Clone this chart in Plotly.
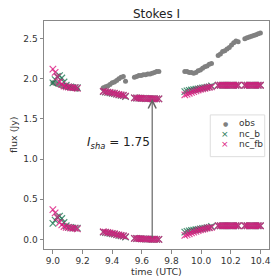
import plotly.graph_objects as go

I_SHA = 1.75

# --- observations (grey dots) ---
obs_t = [9.00, 9.015, 9.03, 9.045, 9.06, 9.075, 9.09, 9.105, 9.12, 9.135, 9.15, 9.165,
         9.34, 9.355, 9.37, 9.385, 9.40, 9.415, 9.43, 9.445, 9.46, 9.475, 9.49,
         9.55, 9.565, 9.58, 9.595, 9.61, 9.625, 9.64, 9.655, 9.67, 9.685, 9.70, 9.715,
         9.89, 9.905, 9.92, 9.935, 9.95, 9.965, 9.98, 9.995, 10.01, 10.025, 10.04, 10.055, 10.07,
         10.115, 10.13, 10.145, 10.16, 10.175, 10.19, 10.205, 10.22, 10.235, 10.25,
         10.295, 10.31, 10.325, 10.34, 10.355, 10.37, 10.385, 10.40]
obs_v = [1.95, 1.94, 1.93, 1.92, 1.91, 1.90, 1.90, 1.89, 1.89, 1.88, 1.88, 1.87,
         1.89, 1.90, 1.91, 1.93, 1.95, 1.96, 1.98, 2.00, 2.02, 2.03, 1.97,
         2.02, 2.03, 2.04, 2.04, 2.05, 2.05, 2.06, 2.06, 2.07, 2.08, 2.09, 2.09,
         2.09, 2.09, 2.08, 2.08, 2.07, 2.08, 2.10, 2.11, 2.13, 2.15, 2.16, 2.18, 2.19,
         2.29, 2.31, 2.34, 2.35, 2.37, 2.39, 2.42, 2.45, 2.47, 2.46,
         2.50, 2.51, 2.52, 2.53, 2.54, 2.55, 2.56, 2.57]

# --- model times ---
nc_t = [9.00, 9.015, 9.03, 9.045, 9.06, 9.075, 9.09, 9.105, 9.12, 9.135, 9.15, 9.165,
        9.34, 9.355, 9.37, 9.385, 9.40, 9.415, 9.43, 9.445, 9.46, 9.475, 9.49,
        9.55, 9.565, 9.58, 9.595, 9.61, 9.625, 9.64, 9.655, 9.67, 9.685, 9.70, 9.715,
        9.89, 9.905, 9.92, 9.935, 9.95, 9.965, 9.98, 9.995, 10.01, 10.025, 10.04, 10.055, 10.07,
        10.115, 10.13, 10.145, 10.16, 10.175, 10.19, 10.205, 10.22, 10.235, 10.25,
        10.295, 10.31, 10.325, 10.34, 10.355, 10.37, 10.385, 10.40]
nc_b = [0.20, 0.24, 0.28, 0.29, 0.26, 0.21, 0.17, 0.15, 0.15, 0.14, 0.14, 0.14,
        0.09, 0.085, 0.08, 0.075, 0.07, 0.065, 0.06, 0.05, 0.045, 0.04, 0.03,
        0.012, 0.011, 0.01, 0.008, 0.006, 0.005, 0.004, 0.003, 0.002, 0.001, 0.0, 0.0,
        0.09, 0.10, 0.105, 0.11, 0.115, 0.12, 0.125, 0.13, 0.135, 0.14, 0.145, 0.15, 0.16,
        0.17, 0.17, 0.17, 0.17, 0.17, 0.17, 0.17, 0.17, 0.17, 0.17,
        0.17, 0.17, 0.17, 0.17, 0.17, 0.17, 0.17, 0.17]
nc_fb = [0.37, 0.33, 0.27, 0.21, 0.18, 0.16, 0.15, 0.15, 0.14, 0.14, 0.14, 0.13,
         0.095, 0.09, 0.085, 0.08, 0.075, 0.07, 0.06, 0.055, 0.05, 0.045, 0.035,
         0.012, 0.011, 0.01, 0.008, 0.006, 0.005, 0.004, 0.003, 0.002, 0.001, 0.0, 0.0,
         0.05, 0.06, 0.07, 0.08, 0.09, 0.10, 0.11, 0.12, 0.125, 0.13, 0.14, 0.145, 0.15,
         0.17, 0.17, 0.17, 0.17, 0.17, 0.17, 0.17, 0.17, 0.17, 0.17,
         0.17, 0.17, 0.17, 0.17, 0.17, 0.17, 0.17, 0.17]

x_ticks = [9.0, 9.2, 9.4, 9.6, 9.8, 10.0, 10.2, 10.4]
y_ticks = [0.0, 0.5, 1.0, 1.5, 2.0, 2.5]
legend_labels = ["obs", "nc_b", "nc_fb"]

GREY = "#808080"
GREEN = "#1e7a55"
PINK = "#dc1a80"
FONT = "DejaVu Sans"

fig = go.Figure()
fig.add_trace(go.Scatter(x=obs_t, y=obs_v, mode="markers", name="obs",
                         marker=dict(color=GREY, size=5)))
xm = dict(symbol="x-thin", size=6.5, opacity=0.8)
fig.add_trace(go.Scatter(x=nc_t, y=nc_b, mode="markers", name="nc_b",
                         marker=dict(**xm, line=dict(color=GREEN, width=1.2))))
fig.add_trace(go.Scatter(x=nc_t, y=[v + I_SHA for v in nc_b], mode="markers",
                         marker=dict(**xm, line=dict(color=GREEN, width=1.2))))
fig.add_trace(go.Scatter(x=nc_t, y=nc_fb, mode="markers", name="nc_fb",
                         marker=dict(**xm, line=dict(color=PINK, width=1.2))))
fig.add_trace(go.Scatter(x=nc_t, y=[v + I_SHA for v in nc_fb], mode="markers",
                         marker=dict(**xm, line=dict(color=PINK, width=1.2))))

fig.add_annotation(x=9.67, y=I_SHA, ax=9.67, ay=0.0, axref="x", ayref="y",
                   xref="x", yref="y", showarrow=True, arrowhead=5, arrowsize=1.3,
                   arrowwidth=1.2, arrowcolor="#666666", text="")
fig.add_annotation(x=9.44, y=1.20, xref="x", yref="y", showarrow=False,
                   text="<i>I</i><sub><i>sha</i></sub> = 1.75",
                   font=dict(family=FONT, size=12, color="#222"))

# manual legend (compact, matplotlib-like)
fig.add_shape(type="rect", xref="paper", yref="paper", x0=0.739, x1=0.981, y0=0.405, y1=0.588,
              line=dict(color="#dddddd", width=1), fillcolor="rgba(255,255,255,0.85)", layer="above")
leg_y = [0.551, 0.503, 0.459]
leg_sym = [("●", GREY, 6), ("×", GREEN, 9), ("×", PINK, 9)]
for lab, yy, (sym, col, sz) in zip(legend_labels, leg_y, leg_sym):
    fig.add_annotation(x=0.805, y=yy, xref="paper", yref="paper", showarrow=False,
                       text=sym, font=dict(family=FONT, size=sz, color=col),
                       xanchor="center", yanchor="middle", borderpad=0)
    fig.add_annotation(x=0.862, y=yy, xref="paper", yref="paper", showarrow=False,
                       text=lab, font=dict(family=FONT, size=9, color="#333"),
                       xanchor="left", yanchor="middle", borderpad=0)

# axis titles
fig.add_annotation(x=0.5, y=-0.098, xref="paper", yref="paper", showarrow=False,
                   text="time (UTC)", font=dict(family=FONT, size=9.5, color="#333"),
                   xanchor="center", yanchor="middle")
fig.add_annotation(x=-0.138, y=0.5, xref="paper", yref="paper", showarrow=False,
                   text="flux (Jy)", textangle=-90, font=dict(family=FONT, size=9.5, color="#333"),
                   xanchor="center", yanchor="middle")

axis_common = dict(showline=True, mirror=True, linecolor="#888", linewidth=1,
                   ticks="outside", ticklen=3.5, tickcolor="#888", tickwidth=1,
                   showgrid=False, zeroline=False,
                   tickfont=dict(family=FONT, size=9, color="#333"))

fig.update_layout(
    width=277, height=277,
    margin=dict(l=44, r=6, t=21, b=28),
    paper_bgcolor="white", plot_bgcolor="white",
    showlegend=False,
    font=dict(family=FONT, color="#333"),
    title=dict(text="Stokes I", x=0.5, xref="paper", xanchor="center", y=0.949, yanchor="middle",
               yref="container", font=dict(size=12, color="#222")),
    xaxis=dict(range=[8.94, 10.458], tickvals=x_ticks,
               ticktext=[f"{v:.1f}" for v in x_ticks], **axis_common),
    yaxis=dict(range=[-0.12, 2.72], tickvals=y_ticks,
               ticktext=[f"{v:.1f}" for v in y_ticks], **axis_common),
)

fig.write_html("out.html", config={"displayModeBar": False, "staticPlot": True},
               post_script="document.body.style.margin='0';document.body.style.overflow='hidden';")
